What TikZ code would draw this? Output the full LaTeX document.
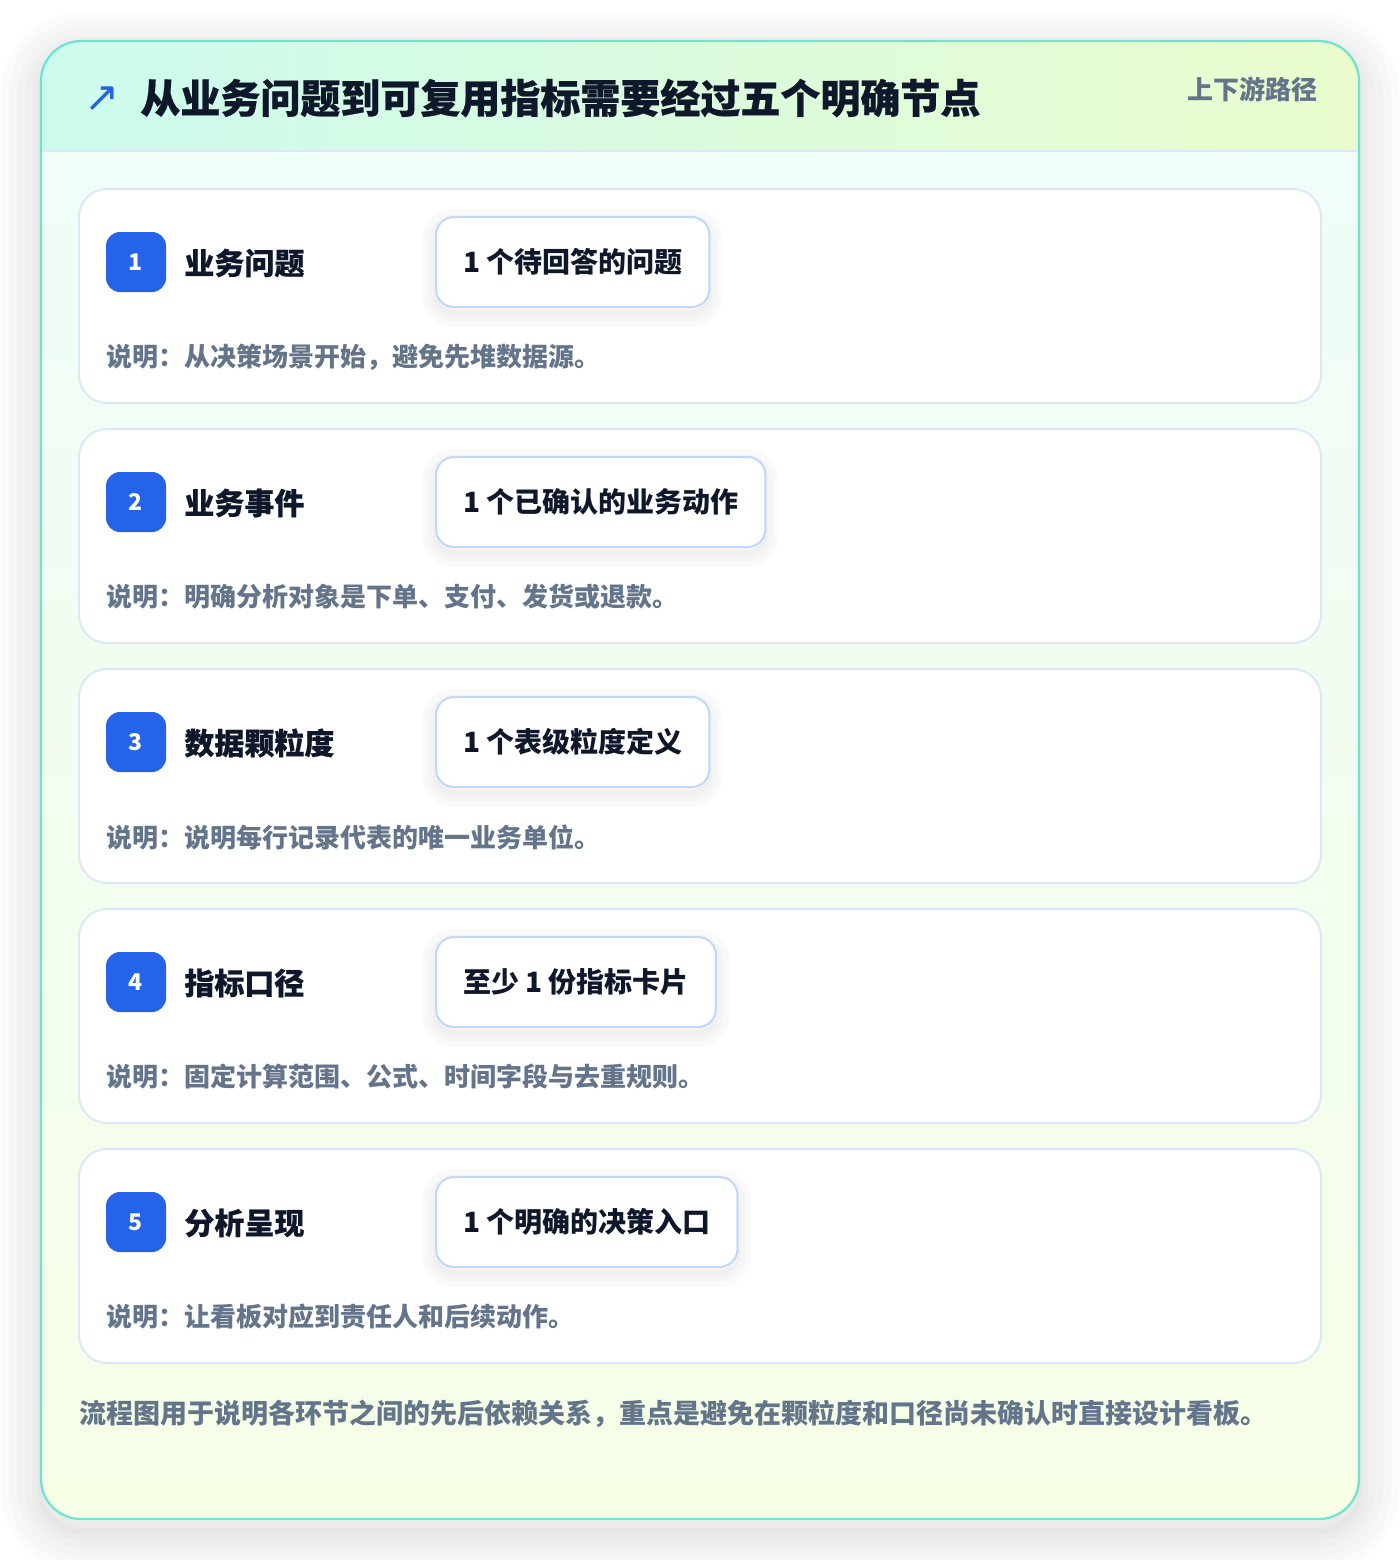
\documentclass[tikz,border=0pt]{standalone}
\usepackage{fontspec}
\setmainfont{Noto Sans CJK SC}
\newfontfamily\arrowfont{DejaVu Sans}
\definecolor{panelline}{HTML}{70E3CF}
\definecolor{headl}{HTML}{CCFBEE}
\definecolor{headr}{HTML}{EAFCCD}
\definecolor{bodyt}{HTML}{EFFDFA}
\definecolor{bodyb}{HTML}{F6FEE6}
\definecolor{sepline}{HTML}{DCE8F8}
\definecolor{cardline}{HTML}{DCE8F8}
\definecolor{chipline}{HTML}{BFD8FB}
\definecolor{badgeblue}{HTML}{2563EB}
\definecolor{ink}{HTML}{0F172A}
\definecolor{slate}{HTML}{64748B}
\begin{document}
\begin{tikzpicture}[x=0.5pt,y=-0.5pt,font=\bfseries,
	softshadow/.style={draw=black,draw opacity=0.016,line width=#1,fill opacity=0,transform canvas={yshift=-6pt}},
	chipshadow/.style={draw=black,draw opacity=0.018,line width=#1,fill opacity=0,transform canvas={yshift=-3pt}},
	card/.style={rectangle,draw=cardline,line width=1pt,fill=white,rounded corners=14pt,minimum width=621pt,minimum height=107pt},
	badge/.style={rectangle,fill=badgeblue,text=white,rounded corners=7pt,minimum size=30pt,inner sep=0pt,font=\bfseries\fontsize{11.5}{11.5}\selectfont},
	steptitle/.style={anchor=west,inner sep=0pt,text=ink,font=\bfseries\fontsize{15}{15}\selectfont\addfontfeature{FakeBold=0.4}},
	chip/.style={rectangle,anchor=west,draw=chipline,line width=1pt,fill=white,rounded corners=9pt,minimum height=45pt,inner xsep=13.5pt,text=ink,font=\bfseries\fontsize{14}{14}\selectfont,
		preaction={chipshadow=14pt},preaction={chipshadow=8pt},preaction={chipshadow=3pt}},
	desc/.style={anchor=west,inner sep=0pt,text=slate,font=\bfseries\fontsize{13}{13}\selectfont}]
	\useasboundingbox (0,0) rectangle (1400,1560);
	\fill[white] (0,0) rectangle (1400,1560);

	% outer panel with header band
	\fill[top color=bodyt,bottom color=bodyb,rounded corners=20pt,
		preaction={softshadow=40pt},preaction={softshadow=32pt},preaction={softshadow=24pt},preaction={softshadow=16pt},preaction={softshadow=9pt},preaction={softshadow=3pt}]
		(41,41) rectangle (1359,1519);
	\begin{scope}
		\clip[rounded corners=20pt] (41,41) rectangle (1359,1519);
		\fill[left color=headl,right color=headr] (41,41) rectangle (1359,151);
	\end{scope}
	\draw[sepline,line width=1pt] (41,151) -- (1359,151);
	\draw[panelline,line width=1.1pt,rounded corners=20pt] (41,41) rectangle (1359,1519);

	\node (arrow) [anchor=center,text=badgeblue,inner sep=0pt,font=\arrowfont\fontsize{21}{21}\selectfont] at (102,99) {↗};
	\node (title) [anchor=west,inner sep=0pt,text=ink,font=\bfseries\fontsize{20}{20}\selectfont\addfontfeature{FakeBold=0.6}] at (140,98) {从业务问题到可复用指标需要经过五个明确节点};
	\node (route) [anchor=east,inner sep=0pt,text=slate,font=\bfseries\fontsize{13}{13}\selectfont] at (1318,89) {上下游路径};

	% step 1
	\node (c1) [card] at (700,296) {};
	\node (b1) [badge] at (136,262) {1};
	\node (t1) [steptitle] at (184,263) {业务问题};
	\node (p1) [chip] at (435,262) {1 个待回答的问题};
	\node (d1) [desc] at (106,357) {说明：从决策场景开始，避免先堆数据源。};

	% step 2
	\node (c2) [card] at (700,536) {};
	\node (b2) [badge] at (136,502) {2};
	\node (t2) [steptitle] at (184,503) {业务事件};
	\node (p2) [chip] at (435,502) {1 个已确认的业务动作};
	\node (d2) [desc] at (106,597) {说明：明确分析对象是下单、支付、发货或退款。};

	% step 3
	\node (c3) [card] at (700,776) {};
	\node (b3) [badge] at (136,742) {3};
	\node (t3) [steptitle] at (184,743) {数据颗粒度};
	\node (p3) [chip] at (435,742) {1 个表级粒度定义};
	\node (d3) [desc] at (106,837) {说明：说明每行记录代表的唯一业务单位。};

	% step 4
	\node (c4) [card] at (700,1016) {};
	\node (b4) [badge] at (136,982) {4};
	\node (t4) [steptitle] at (184,983) {指标口径};
	\node (p4) [chip] at (435,982) {至少 1 份指标卡片};
	\node (d4) [desc] at (106,1077) {说明：固定计算范围、公式、时间字段与去重规则。};

	% step 5
	\node (c5) [card] at (700,1256) {};
	\node (b5) [badge] at (136,1222) {5};
	\node (t5) [steptitle] at (184,1223) {分析呈现};
	\node (p5) [chip] at (435,1222) {1 个明确的决策入口};
	\node (d5) [desc] at (106,1317) {说明：让看板对应到责任人和后续动作。};

	\node (note) [desc,font=\bfseries\fontsize{13.5}{13.5}\selectfont] at (79,1414) {流程图用于说明各环节之间的先后依赖关系，重点是避免在颗粒度和口径尚未确认时直接设计看板。};
\end{tikzpicture}
\end{document}
